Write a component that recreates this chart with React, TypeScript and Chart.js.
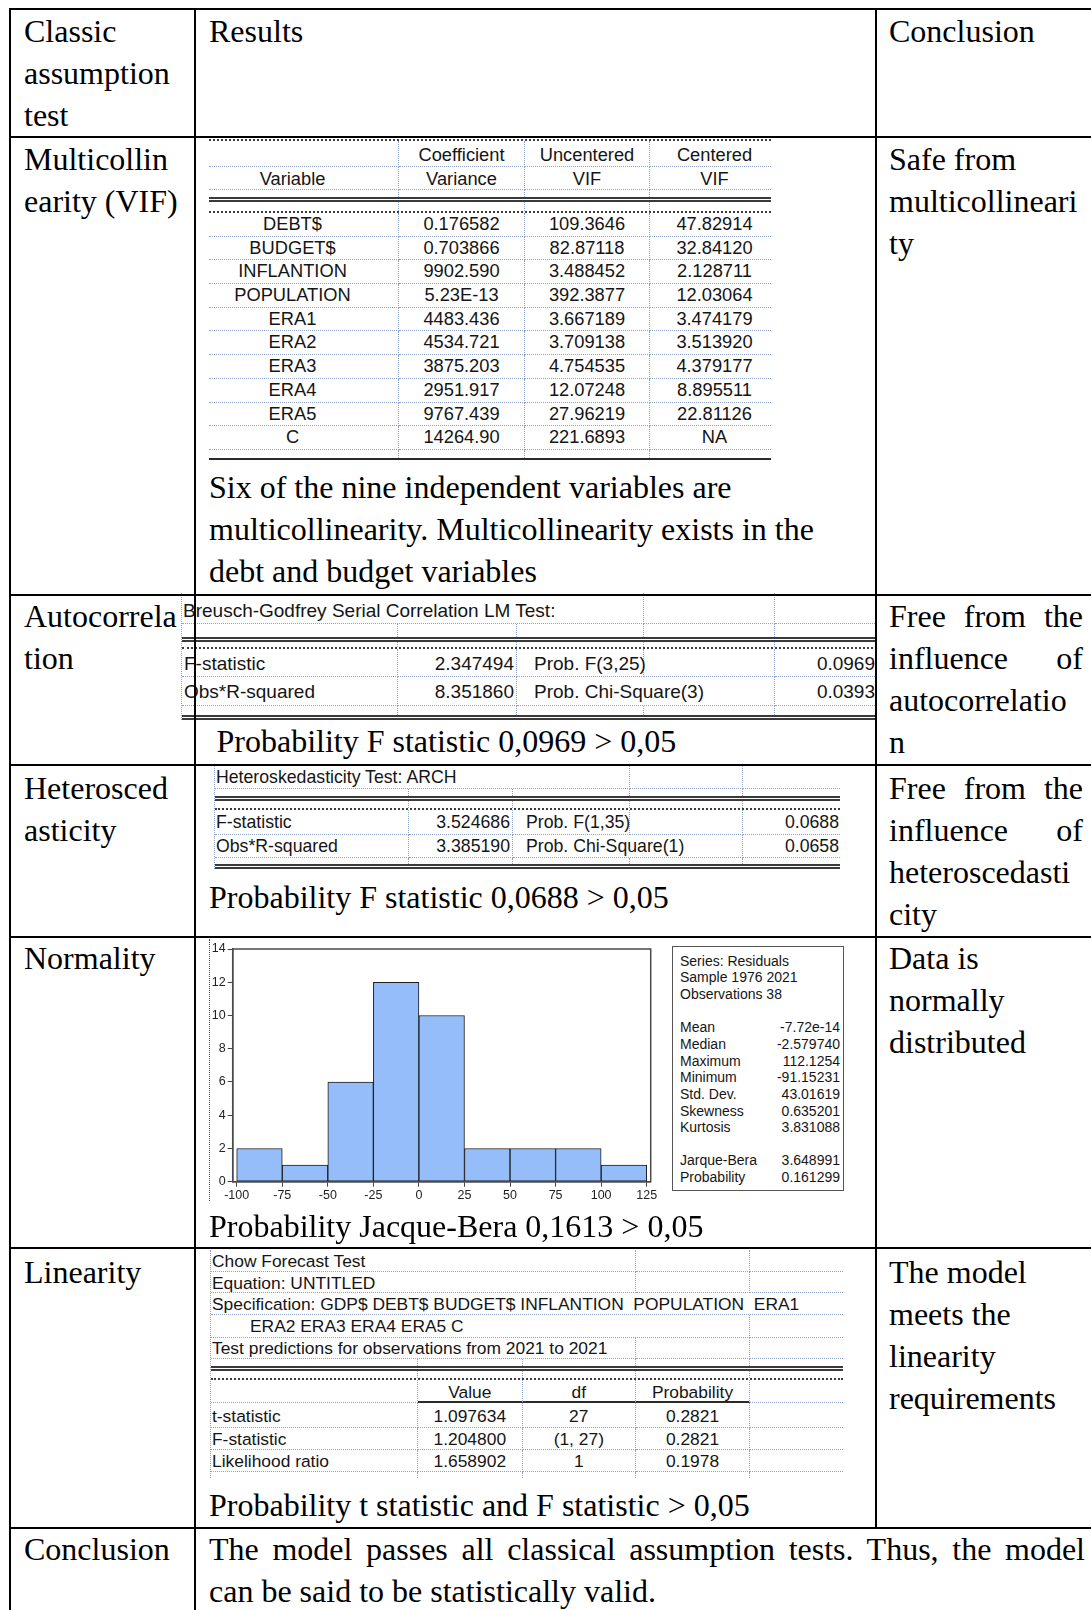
import React, { useEffect, useRef } from "react";
import { Chart, registerables } from "chart.js";

Chart.register(...registerables);

// ---------------- Data ----------------
const BIN_EDGES = [-100, -75, -50, -25, 0, 25, 50, 75, 100, 125];
const BIN_COUNTS = [2, 1, 6, 12, 10, 2, 2, 2, 1];
const X_TICKS = [-100, -75, -50, -25, 0, 25, 50, 75, 100, 125];
const Y_TICKS = [0, 2, 4, 6, 8, 10, 12, 14];

const STAT_HEAD = ["Series: Residuals", "Sample 1976 2021", "Observations 38"];
const STAT_LABELS = ["Mean", "Median", "Maximum", "Minimum", "Std. Dev.", "Skewness", "Kurtosis"];
const STAT_VALUES = ["-7.72e-14", "-2.579740", "112.1254", "-91.15231", "43.01619", "0.635201", "3.831088"];
const JB_LABELS = ["Jarque-Bera", "Probability"];
const JB_VALUES = ["3.648991", "0.161299"];

const VIF_HEAD1 = ["", "Coefficient", "Uncentered", "Centered"];
const VIF_HEAD2 = ["Variable", "Variance", "VIF", "VIF"];
const VIF_VARIABLES = ["DEBT$", "BUDGET$", "INFLANTION", "POPULATION", "ERA1", "ERA2", "ERA3", "ERA4", "ERA5", "C"];
const VIF_COEF_VAR = ["0.176582", "0.703866", "9902.590", "5.23E-13", "4483.436", "4534.721", "3875.203", "2951.917", "9767.439", "14264.90"];
const VIF_UNCENTERED = ["109.3646", "82.87118", "3.488452", "392.3877", "3.667189", "3.709138", "4.754535", "12.07248", "27.96219", "221.6893"];
const VIF_CENTERED = ["47.82914", "32.84120", "2.128711", "12.03064", "3.474179", "3.513920", "4.379177", "8.895511", "22.81126", "NA"];

const BG_TITLE = "Breusch-Godfrey Serial Correlation LM Test:";
const BG_LABELS = ["F-statistic", "Obs*R-squared"];
const BG_VALUES = ["2.347494", "8.351860"];
const BG_PLABELS = ["Prob. F(3,25)", "Prob. Chi-Square(3)"];
const BG_PVALUES = ["0.0969", "0.0393"];

const ARCH_TITLE = "Heteroskedasticity Test: ARCH";
const ARCH_LABELS = ["F-statistic", "Obs*R-squared"];
const ARCH_VALUES = ["3.524686", "3.385190"];
const ARCH_PLABELS = ["Prob. F(1,35)", "Prob. Chi-Square(1)"];
const ARCH_PVALUES = ["0.0688", "0.0658"];

const CHOW_HEAD = ["Chow Forecast Test", "Equation: UNTITLED", "Specification: GDP$ DEBT$ BUDGET$ INFLANTION  POPULATION  ERA1", "ERA2 ERA3 ERA4 ERA5 C", "Test predictions for observations from 2021 to 2021"];
const CHOW_COLS = ["Value", "df", "Probability"];
const CHOW_LABELS = ["t-statistic", "F-statistic", "Likelihood ratio"];
const CHOW_VALUES = ["1.097634", "1.204800", "1.658902"];
const CHOW_DF = ["27", "(1, 27)", "1"];
const CHOW_PROB = ["0.2821", "0.2821", "0.1978"];

const COL1_TEXT = [["Classic", "assumption", "test"], ["Multicollin", "earity (VIF)"], ["Autocorrela", "tion"], ["Heterosced", "asticity"], ["Normality"], ["Linearity"], ["Conclusion"]];
const COL3_TEXT = [["Conclusion"], ["Safe from", "multicollineari", "ty"], ["Free from the", "influence of", "autocorrelatio", "n"], ["Free from the", "influence of", "heteroscedasti", "city"], ["Data is", "normally", "distributed"], ["The model", "meets the", "linearity", "requirements"]];
const COL3_JUSTIFY = [[], [], [true, true], [true, true], [], []];
const RESULTS_HEAD = "Results";
const VIF_NOTE = ["Six of the nine independent variables are", "multicollinearity. Multicollinearity exists in the", "debt and budget variables"];
const BG_NOTE = "Probability F statistic 0,0969 > 0,05";
const ARCH_NOTE = "Probability F statistic 0,0688 > 0,05";
const JB_NOTE = "Probability Jacque-Bera 0,1613 > 0,05";
const CHOW_NOTE = "Probability t statistic and F statistic > 0,05";
const FINAL_TEXT = ["The model passes all classical assumption tests. Thus, the model", "can be said to be statistically valid."];

// ---------------- Styles ----------------
const SERIF = '"Liberation Serif", "Times New Roman", serif';
const SANS = '"Liberation Sans", Arial, sans-serif';
const DOT = "1px dotted #8ea2c6";
const THICK = "2px dotted #3d3d3d";
const DOUBLE = "5px double #3a3a3a";
const SOLID = "2px solid #2a2a2a";

type Cell = { t?: string; span?: number; a?: "left" | "right" | "center"; pl?: number; pr?: number; pt?: number; bb?: string };
type Item = { rule?: string; h: number; cells?: Cell[]; bb?: string };

function EvTable(props: { left: number; top: number; cols: number[]; items: Item[]; size: number; leftBorder?: boolean }) {
  const { left, top, cols, items, size, leftBorder } = props;
  const total = cols.reduce((s, c) => s + c, 0);
  return (
    <div style={{ position: "absolute", left, top, width: total, fontFamily: SANS, fontSize: size, color: "#151515", borderLeft: leftBorder ? DOT : undefined }}>
      {items.map((it, i) => {
        if (it.rule) return <div key={i} style={{ height: it.h, boxSizing: "border-box", borderTop: it.rule }} />;
        const cells: Cell[] = it.cells && it.cells.length ? it.cells : cols.map(() => ({}));
        let ci = 0;
        return (
          <div key={i} style={{ display: "flex", height: it.h }}>
            {cells.map((c, j) => {
              const span = c.span || 1;
              const w = cols.slice(ci, ci + span).reduce((s, v) => s + v, 0);
              ci += span;
              const last = ci >= cols.length;
              const bb = c.bb ?? it.bb ?? "none";
              const bbw = bb === "none" ? 0 : parseFloat(bb);
              const pt = c.pt ?? 0;
              return (
                <div
                  key={j}
                  style={{
                    width: w,
                    flex: "none",
                    height: it.h,
                    boxSizing: "border-box",
                    borderRight: last ? "none" : DOT,
                    borderBottom: bb,
                    paddingLeft: c.pl ?? 0,
                    paddingRight: c.pr ?? 0,
                    paddingTop: pt,
                    textAlign: c.a ?? "left",
                    whiteSpace: "pre",
                    lineHeight: `${it.h - bbw - pt}px`,
                    overflow: "visible",
                  }}
                >
                  {c.t ?? ""}
                </div>
              );
            })}
          </div>
        );
      })}
    </div>
  );
}

function Lines(props: { x: number; y: number; w: number; lines: string[]; justify?: boolean[] }) {
  const { x, y, w, lines, justify } = props;
  return (
    <div style={{ position: "absolute", left: x, top: y, width: w, fontFamily: SERIF, fontSize: 32, lineHeight: "42px", color: "#000" }}>
      {lines.map((l, i) => (
        <div key={i} style={{ whiteSpace: "nowrap", textAlign: justify && justify[i] ? "justify" : "left", textAlignLast: justify && justify[i] ? "justify" : "auto" } as React.CSSProperties}>
          {l}
        </div>
      ))}
    </div>
  );
}

function Histogram() {
  const ref = useRef<HTMLCanvasElement | null>(null);
  useEffect(() => {
    if (!ref.current) return;
    const centers = BIN_COUNTS.map((_, i) => (BIN_EDGES[i] + BIN_EDGES[i + 1]) / 2);
    const framePlugin = {
      id: "frame",
      afterDraw(chart: any) {
        const { ctx, chartArea: a } = chart;
        ctx.save();
        ctx.strokeStyle = "#4a4a4a";
        ctx.lineWidth = 1.5;
        ctx.strokeRect(a.left, a.top, a.right - a.left, a.bottom - a.top);
        ctx.restore();
      },
    };
    const tickFont = { family: SANS, size: 12.5 };
    const chart = new Chart(ref.current, {
      type: "bar",
      data: {
        datasets: [
          {
            data: centers.map((c, i) => ({ x: c, y: BIN_COUNTS[i] })),
            backgroundColor: "#95BDFA",
            borderColor: "#1c1c1c",
            borderWidth: 1,
            borderSkipped: false,
            barPercentage: 1,
            categoryPercentage: 1,
          } as any,
        ],
      },
      options: {
        animation: false,
        responsive: false,
        devicePixelRatio: 1,
        layout: { padding: { left: 0, top: 10, right: 19.3, bottom: 0 } },
        plugins: { legend: { display: false }, tooltip: { enabled: false } },
        scales: {
          x: {
            type: "linear",
            min: -102.2,
            max: 127.2,
            offset: false,
            afterBuildTicks: (s: any) => {
              s.ticks = X_TICKS.map((v) => ({ value: v }));
            },
            afterFit: (s: any) => {
              s.height = 25.3;
            },
            grid: { drawOnChartArea: false, drawTicks: true, tickLength: 5, color: "#444", offset: false },
            border: { display: true, color: "#444", width: 1.5 },
            ticks: { font: tickFont, color: "#222", padding: 1, maxRotation: 0, autoSkip: false },
          },
          y: {
            type: "linear",
            min: 0,
            max: 14,
            afterBuildTicks: (s: any) => {
              s.ticks = Y_TICKS.map((v) => ({ value: v }));
            },
            afterFit: (s: any) => {
              s.width = 37.7;
            },
            grid: { drawOnChartArea: false, drawTicks: true, tickLength: 5, color: "#444" },
            border: { display: true, color: "#444", width: 1.5 },
            ticks: { font: tickFont, color: "#222", padding: 2, autoSkip: false },
          },
        },
      } as any,
      plugins: [framePlugin],
    });
    return () => chart.destroy();
  }, []);
  return <canvas ref={ref} width={475} height={268} style={{ position: "absolute", left: 195, top: 939, width: 475, height: 268 }} />;
}

const STAT_LH = 16.65;

function StatsBox() {
  const row = (l: string, v: string, k: string) => (
    <div key={k} style={{ display: "flex", justifyContent: "space-between", height: STAT_LH, whiteSpace: "nowrap" }}>
      <span>{l}</span>
      <span>{v}</span>
    </div>
  );
  return (
    <div
      style={{
        position: "absolute",
        left: 672,
        top: 946,
        width: 171.6,
        height: 244.5,
        boxSizing: "border-box",
        border: "1.5px solid #555",
        padding: "5.8px 2.6px 0 7px",
        fontFamily: SANS,
        fontSize: 14,
        lineHeight: `${STAT_LH}px`,
        color: "#151515",
        background: "#fff",
      }}
    >
      {STAT_HEAD.map((t, i) => (
        <div key={"h" + i} style={{ height: STAT_LH, whiteSpace: "nowrap" }}>{t}</div>
      ))}
      <div style={{ height: STAT_LH }} />
      {STAT_LABELS.map((l, i) => row(l, STAT_VALUES[i], "s" + i))}
      <div style={{ height: STAT_LH }} />
      {JB_LABELS.map((l, i) => row(l, JB_VALUES[i], "j" + i))}
    </div>
  );
}

function HLine({ x1, x2, y }: { x1: number; x2: number; y: number }) {
  return <div style={{ position: "absolute", left: x1, top: y - 1, width: x2 - x1, height: 2, background: "#000" }} />;
}
function VLine({ x, y1, y2 }: { x: number; y1: number; y2: number }) {
  return <div style={{ position: "absolute", left: x - 1, top: y1, width: 2, height: y2 - y1, background: "#000" }} />;
}

export default function App() {
  const rowTops = [9.5, 138, 595, 766.5, 936.5, 1250.5, 1528];
  const hy = [9, 137, 594.5, 765, 936.5, 1248, 1527.5];

  const vifItems: Item[] = [
    { rule: THICK, h: 2 },
    { h: 26, bb: DOT, cells: VIF_HEAD1.map((t, i) => ({ t, a: "center", pr: i === 0 ? 22 : 0, pl: i === 3 ? 8 : 0, pt: 2 })) },
    { h: 23, bb: DOT, cells: VIF_HEAD2.map((t, i) => ({ t, a: "center", pr: i === 0 ? 22 : 0, pl: i === 3 ? 8 : 0, pt: 1 })) },
    { h: 7 },
    { rule: DOUBLE, h: 5 },
    { h: 9 },
    { rule: THICK, h: 2 },
    ...VIF_VARIABLES.map((v, i) => ({
      h: 23.7,
      bb: DOT,
      cells: [
        { t: v, a: "center" as const, pr: 22 },
        { t: VIF_COEF_VAR[i], a: "center" as const },
        { t: VIF_UNCENTERED[i], a: "center" as const },
        { t: VIF_CENTERED[i], a: "center" as const, pl: 8 },
      ],
    })),
    { h: 8 },
    { rule: SOLID, h: 2 },
  ];

  const bgItems: Item[] = [
    { h: 31, bb: DOT, cells: [{ t: BG_TITLE, span: 3, pl: 1, pt: 5 }, {}, {}] },
    { h: 13 },
    { rule: DOUBLE, h: 5 },
    { h: 5 },
    { rule: THICK, h: 2 },
    { h: 28, bb: DOT, cells: [{ t: BG_LABELS[0], pl: 2, pt: 2 }, { t: BG_VALUES[0], a: "right", pr: 2, pt: 2 }, { t: BG_PLABELS[0], pl: 17, pt: 2 }, {}, { t: BG_PVALUES[0], a: "right", pr: 2, pt: 2 }] },
    { h: 29, bb: DOT, cells: [{ t: BG_LABELS[1], pl: 2, pt: 1 }, { t: BG_VALUES[1], a: "right", pr: 2, pt: 1 }, { t: BG_PLABELS[1], pl: 17, span: 2, pt: 1 }, { t: BG_PVALUES[1], a: "right", pr: 2, pt: 1 }] },
    { h: 9 },
    { rule: DOUBLE, h: 5 },
  ];

  const archItems: Item[] = [
    { h: 23, bb: DOT, cells: [{ t: ARCH_TITLE, span: 3, pl: 1 }, {}, {}] },
    { h: 7 },
    { rule: DOUBLE, h: 5 },
    { h: 7 },
    { rule: THICK, h: 2 },
    { h: 25, bb: DOT, cells: [{ t: ARCH_LABELS[0], pl: 1 }, { t: ARCH_VALUES[0], a: "right", pr: 1.5 }, { t: ARCH_PLABELS[0], pl: 13.5 }, {}, { t: ARCH_PVALUES[0], a: "right", pr: 1 }] },
    { h: 23, bb: DOT, cells: [{ t: ARCH_LABELS[1], pl: 1 }, { t: ARCH_VALUES[1], a: "right", pr: 1.5 }, { t: ARCH_PLABELS[1], pl: 13.5, span: 2 }, { t: ARCH_PVALUES[1], a: "right", pr: 1 }] },
    { h: 6 },
    { rule: DOUBLE, h: 5 },
  ];

  const chowItems: Item[] = [
    { h: 21.7, bb: DOT, cells: [{ t: CHOW_HEAD[0], span: 3, pl: 1, pt: 2 }, {}, {}] },
    { h: 21.6, bb: DOT, cells: [{ t: CHOW_HEAD[1], span: 3, pl: 1, pt: 2 }, {}, {}] },
    { h: 21.7, bb: DOT, cells: [{ t: CHOW_HEAD[2], span: 5, pl: 1, pt: 2 }] },
    { h: 22.7, bb: DOT, cells: [{ t: CHOW_HEAD[3], span: 4, pl: 39, pt: 2 }, {}] },
    { h: 21.3, bb: DOT, cells: [{ t: CHOW_HEAD[4], span: 3, pl: 1, pt: 1 }, {}, {}] },
    { h: 7 },
    { rule: DOUBLE, h: 5 },
    { h: 7 },
    { rule: THICK, h: 2 },
    { h: 23, bb: DOT, cells: [{}, { t: CHOW_COLS[0], a: "center", bb: SOLID, pt: 3 }, { t: CHOW_COLS[1], a: "center", bb: SOLID, pt: 3 }, { t: CHOW_COLS[2], a: "center", bb: SOLID, pt: 3 }, {}] },
    ...CHOW_LABELS.map((l, i) => ({
      h: [25, 22, 21.7][i],
      bb: DOT,
      cells: [
        { t: l, pl: 1, pt: 2 },
        { t: CHOW_VALUES[i], a: "center" as const, pt: 2 },
        { t: CHOW_DF[i], a: "center" as const, pt: 2 },
        { t: CHOW_PROB[i], a: "center" as const, pt: 2 },
        {},
      ],
    })),
    { h: 6.3 },
  ];

  return (
    <div style={{ position: "absolute", left: 0, top: 0, width: 1091, height: 1610, overflow: "hidden", background: "#fff" }}>
      {/* EViews outputs (drawn first, table rules on top) */}
      <EvTable left={209} top={139} cols={[190, 126, 125, 121]} items={vifItems} size={18.3} />
      <EvTable left={181} top={593} cols={[216, 119, 127, 131, 102]} items={bgItems} size={19} leftBorder />
      <EvTable left={214} top={766} cols={[193.5, 104, 117, 113.5, 97]} items={archItems} size={17.7} leftBorder />
      <EvTable left={210} top={1250} cols={[207, 104.6, 113.4, 114, 93]} items={chowItems} size={17.4} leftBorder />

      <div style={{ position: "absolute", left: 209, top: 939, height: 262, borderLeft: "1px dotted #444" }} />
      <Histogram />
      <StatsBox />

      {/* main table rules */}
      {hy.map((y, i) => (
        <HLine key={"h" + i} x1={9} x2={1092} y={y} />
      ))}
      <VLine x={10} y1={8} y2={1612} />
      <VLine x={194.5} y1={8} y2={1612} />
      <VLine x={876} y1={8} y2={1528.5} />

      {/* column 1 */}
      {COL1_TEXT.map((ls, i) => (
        <Lines key={"c1" + i} x={24} y={rowTops[i]} w={165} lines={ls} />
      ))}
      {/* column 3 */}
      {COL3_TEXT.map((ls, i) => (
        <Lines key={"c3" + i} x={889} y={rowTops[i]} w={194} lines={ls} justify={COL3_JUSTIFY[i]} />
      ))}
      {/* column 2 */}
      <Lines x={209} y={9.5} w={600} lines={[RESULTS_HEAD]} />
      <Lines x={209} y={465.5} w={660} lines={VIF_NOTE} />
      <Lines x={216.5} y={720} w={650} lines={[BG_NOTE]} />
      <Lines x={209} y={876} w={650} lines={[ARCH_NOTE]} />
      <Lines x={209} y={1205} w={650} lines={[JB_NOTE]} />
      <Lines x={209} y={1484} w={660} lines={[CHOW_NOTE]} />
      <Lines x={209} y={1528} w={876} lines={FINAL_TEXT} justify={[true, false]} />
    </div>
  );
}
